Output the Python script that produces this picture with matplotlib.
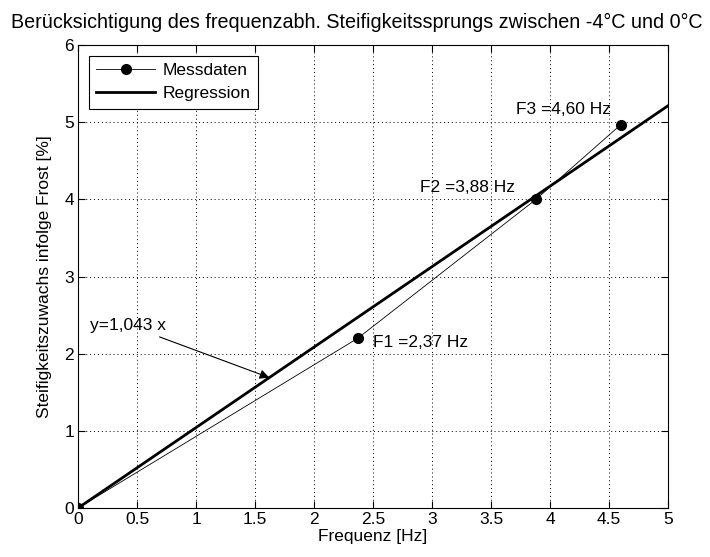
import matplotlib
matplotlib.use("Agg")
import matplotlib.pyplot as plt
import numpy as np

plt.rcParams['font.family'] = ['Liberation Sans', 'DejaVu Sans']

# Data
freq = [0.0, 2.37, 3.88, 4.60]
stiff = [0.0, 2.2, 4.0, 4.97]
slope = 1.043
reg_x = [0.0, 5.0]
point_labels = ["F1 =2,37 Hz", "F2 =3,88 Hz", "F3 =4,60 Hz"]
label_pos = [(2.50, 2.14), (2.90, 4.16), (3.71, 5.17)]
xticks = [0, 0.5, 1, 1.5, 2, 2.5, 3, 3.5, 4, 4.5, 5]
xticklabels = ["0", "0.5", "1", "1.5", "2", "2.5", "3", "3.5", "4", "4.5", "5"]
yticks = [0, 1, 2, 3, 4, 5, 6]

FS = 12.5

fig = plt.figure(figsize=(7.1, 5.57), dpi=100)
ax = fig.add_axes([0.110, 0.088, 0.831, 0.831])

reg_y = [slope * v for v in reg_x]
ax.plot(freq, stiff, color='black', lw=0.6, marker='o', ms=7, label='Messdaten', zorder=3)
ax.plot(reg_x, reg_y, color='black', lw=2.0, label='Regression', zorder=2)

for txt, (px, py) in zip(point_labels, label_pos):
    ax.text(px, py, txt, fontsize=FS, va='center', ha='left')

ax.annotate("y=1,043 x", xy=(1.62, 1.69), xytext=(0.10, 2.37),
            fontsize=FS, va='center', ha='left',
            arrowprops=dict(arrowstyle='-|>', color='black', lw=0.8,
                            mutation_scale=14, shrinkA=3, shrinkB=0))

ax.set_xlim(0, 5)
ax.set_ylim(0, 6)
ax.set_xticks(xticks)
ax.set_xticklabels(xticklabels)
ax.set_yticks(yticks)
ax.tick_params(direction='in', top=True, right=True, labelsize=FS, length=5, width=0.8, pad=3)
ax.grid(True, color='black', linestyle=(0, (1, 3)), linewidth=0.7)
for s in ax.spines.values():
    s.set_linewidth(0.8)

ax.set_xlabel("Frequenz [Hz]", fontsize=FS, labelpad=1)
ax.set_ylabel("Steifigkeitszuwachs infolge Frost [%]", fontsize=FS, labelpad=9)
fig.text(0.502, 0.960, "Berücksichtigung des frequenzabh. Steifigkeitssprungs zwischen -4°C und 0°C",
         ha='center', va='center', fontsize=14.2)

leg = ax.legend(loc='upper left', fontsize=FS, fancybox=False, framealpha=1,
                edgecolor='black', borderaxespad=0.6, handlelength=3.4,
                borderpad=0.45, labelspacing=0.45, handletextpad=0.4)
leg.get_frame().set_linewidth(0.8)

fig.savefig("out.png", dpi=100)
